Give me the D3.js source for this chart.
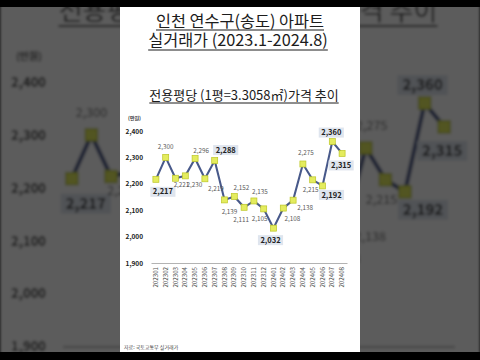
<!DOCTYPE html>
<html>
<head>
<meta charset="utf-8">
<script src="https://cdn.jsdelivr.net/npm/d3@7"></script>
<style>
  body { margin: 0; background: #000; }
  svg { display: block; }
</style>
</head>
<body>
<svg></svg>
<script>
// data
var months = ["202301", "202302", "202303", "202304", "202305", "202306", "202307", "202308", "202309", "202310",
  "202311", "202312", "202401", "202402", "202403", "202404", "202405", "202406", "202407", "202408"];
var prices = [2217, 2300, 2221, 2230, 2296, 2219, 2288, 2139, 2152, 2111,
  2135, 2105, 2032, 2108, 2138, 2275, 2215, 2192, 2360, 2315];
var yTicks = [1900, 2000, 2100, 2200, 2300, 2400];
// months whose label is shown in a highlighted box
var boxed = ["202301", "202307", "202401", "202406", "202407", "202408"];

// label nudges (px from the point), hand placed like the original
var labelNudge = [[7, 12.5], [0, -11], [6, 7], [9, 9], [6, -8], [11, 10], [11, -10.5], [5, 12], [7, -9], [-3, 12],
  [6, -9], [-4, 10], [-3, 12], [9, 11], [12, 8], [3, -11], [-2, 10], [9, 9], [-1, -9], [-1, 12]];

var svgWidth = 480;
var svgHeight = 360;
var font = "'Noto Sans CJK KR', 'Noto Sans', sans-serif";

var svg = d3.select("svg")
  .attr("width", svgWidth)
  .attr("height", svgHeight);

var defs = svg.append("defs");
defs.append("filter").attr("id", "blur")
  .attr("x", "-10%").attr("y", "-10%").attr("width", "120%").attr("height", "120%")
  .append("feGaussianBlur").attr("stdDeviation", 1.4);

var xBandScale = d3.scaleBand()
  .domain(months)
  .range([151, 347]);

var yLinearScale = d3.scaleLinear()
  .domain([1900, 2400])
  .range([263, 131]);

// underlined centered text
function titleText(g, txt, cx, by, size, ul) {
  var t = g.append("text")
    .attr("x", cx).attr("y", by)
    .attr("text-anchor", "middle")
    .style("font-family", font)
    .style("font-size", size + "px")
    .style("fill", "#1c1c1c")
    .text(txt);
  var w = t.node().getComputedTextLength();
  g.append("line")
    .attr("x1", cx - w / 2).attr("x2", cx + w / 2)
    .attr("y1", by + ul).attr("y2", by + ul)
    .attr("stroke", "#1c1c1c")
    .attr("stroke-width", size > 14 ? 1.2 : 1);
}

function drawPanel(g) {
  g.append("rect")
    .attr("x", 120).attr("y", -10)
    .attr("width", 240).attr("height", 380)
    .attr("fill", "#fff");

  titleText(g, "인천 연수구(송도) 아파트", 240, 27, 16.3, 3);
  titleText(g, "실거래가 (2023.1-2024.8)", 238, 46, 16.3, 4);
  titleText(g, "전용평당 (1평=3.3058㎡)가격 추이", 244, 100, 13, 3);

  g.append("text")
    .attr("x", 128).attr("y", 120)
    .style("font-family", font)
    .style("font-size", "5px")
    .style("font-weight", "bold")
    .style("fill", "#333")
    .text("(만원)");

  // y axis
  var leftAxis = d3.axisLeft(yLinearScale)
    .tickValues(yTicks)
    .tickFormat(d3.format(","))
    .tickSize(0)
    .tickPadding(3);

  var ya = g.append("g")
    .attr("transform", "translate(146,0)")
    .call(leftAxis);
  ya.select(".domain").remove();
  ya.selectAll("text")
    .style("font-family", font)
    .style("font-size", "6.5px")
    .style("font-weight", "bold")
    .style("fill", "#222");

  // x axis
  var bottomAxis = d3.axisBottom(xBandScale)
    .tickSize(0)
    .tickSizeOuter(0);

  var xa = g.append("g")
    .attr("transform", "translate(0,263)")
    .call(bottomAxis);
  xa.select(".domain")
    .attr("stroke", "#a0a0a0")
    .attr("stroke-width", 0.8);
  xa.selectAll("text")
    .attr("transform", "rotate(-90)")
    .attr("x", -4)
    .attr("y", 0)
    .attr("dy", "0.35em")
    .style("text-anchor", "end")
    .style("font-family", font)
    .style("font-size", "6.2px")
    .style("fill", "#555");

  // line
  var drawLine = d3.line()
    .x(function(d, i) { return xBandScale(months[i]) + xBandScale.bandwidth() / 2; })
    .y(function(d) { return yLinearScale(d); });

  g.append("path")
    .attr("d", drawLine(prices))
    .attr("fill", "none")
    .attr("stroke", "#48598a")
    .attr("stroke-width", 2.1);

  // markers
  g.selectAll(".pt")
    .data(prices)
    .enter()
    .append("rect")
    .attr("class", "pt")
    .attr("x", function(d, i) { return xBandScale(months[i]) + xBandScale.bandwidth() / 2 - 3; })
    .attr("y", function(d) { return yLinearScale(d) - 3; })
    .attr("width", 6)
    .attr("height", 6)
    .attr("fill", "#e4ec5e")
    .attr("stroke", "#bcc626")
    .attr("stroke-width", 0.7);

  // data labels
  prices.forEach(function(d, i) {
    var cx = xBandScale(months[i]) + xBandScale.bandwidth() / 2 + labelNudge[i][0];
    var cy = yLinearScale(d) + labelNudge[i][1];
    var isBox = boxed.indexOf(months[i]) >= 0;
    var lg = g.append("g");
    var t = lg.append("text")
      .attr("x", cx).attr("y", cy)
      .attr("dy", "0.35em")
      .attr("text-anchor", "middle")
      .style("font-family", font)
      .style("font-size", isBox ? "7.5px" : "6.3px")
      .style("font-weight", isBox ? "bold" : "normal")
      .style("fill", isBox ? "#222" : "#5a5a5a")
      .text(d3.format(",")(d));
    if (isBox) {
      var w = t.node().getComputedTextLength();
      lg.insert("rect", "text")
        .attr("x", cx - w / 2 - 2.5).attr("y", cy - 5)
        .attr("width", w + 5).attr("height", 10)
        .attr("fill", "#dfe5ee");
    }
  });

  g.append("text")
    .attr("x", 124).attr("y", 349)
    .style("font-family", font)
    .style("font-size", "5px")
    .style("fill", "#444")
    .text("자료: 국토교통부 실거래가");
}

// blurred, darkened background copy (2x around the centre)
var bg = svg.append("g").attr("filter", "url(#blur)");
drawPanel(bg.append("g").attr("transform", "translate(240,180) scale(2) translate(-240,-180)"));
svg.append("rect")
  .attr("width", svgWidth).attr("height", svgHeight)
  .attr("fill", "#000").attr("opacity", 0.64);

// the panel itself
defs.append("clipPath").attr("id", "panelClip")
  .append("rect").attr("x", 120).attr("y", 0).attr("width", 240).attr("height", 360);
drawPanel(svg.append("g").attr("clip-path", "url(#panelClip)"));

// letterbox bars
svg.append("rect").attr("x", 0).attr("y", 0).attr("width", svgWidth).attr("height", 7).attr("fill", "#000");
svg.append("rect").attr("x", 0).attr("y", 352).attr("width", svgWidth).attr("height", 8).attr("fill", "#000");
</script>
</body>
</html>
